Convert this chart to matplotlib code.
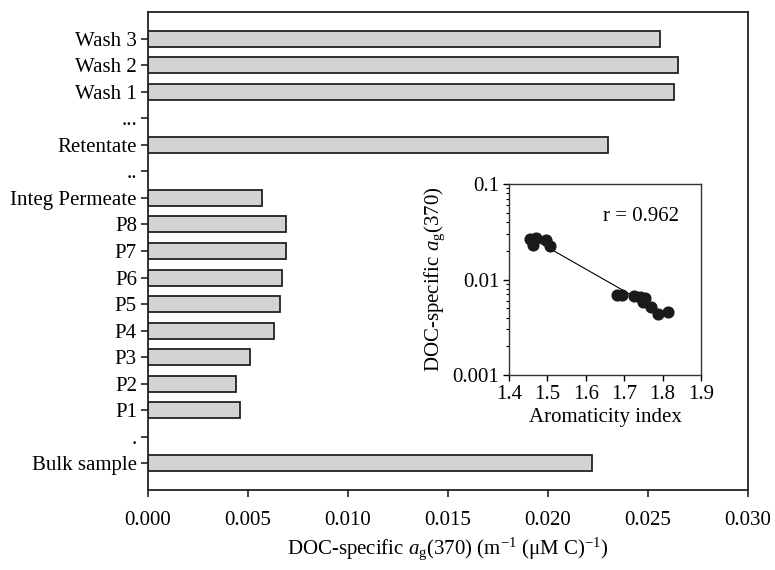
import numpy as np
import matplotlib
matplotlib.use("Agg")
import matplotlib.pyplot as plt
from matplotlib.ticker import LogLocator, NullFormatter

plt.rcParams["font.family"] = ["Liberation Serif", "DejaVu Serif"]
plt.rcParams["mathtext.fontset"] = "custom"
plt.rcParams["mathtext.rm"] = "Liberation Serif"
plt.rcParams["mathtext.it"] = "Liberation Serif:italic"
plt.rcParams["font.size"] = 15

# bar data, bottom to top (nan = empty spacer row)
etiketler = ["Bulk sample", ".", "P1", "P2", "P3", "P4", "P5", "P6", "P7", "P8",
             "Integ Permeate", "..", "Retentate", "...", "Wash 1", "Wash 2", "Wash 3"]
degerler = [0.0222, np.nan, 0.0046, 0.0044, 0.0051, 0.0063, 0.0066, 0.0067, 0.0069, 0.0069,
            0.0057, np.nan, 0.0230, np.nan, 0.0263, 0.0265, 0.0256]

# inset scatter data
aromatiklik = [1.454, 1.463, 1.471, 1.497, 1.508,
               1.680, 1.695, 1.726, 1.741, 1.754, 1.750, 1.769, 1.789, 1.815]
doc_ag = [0.0266, 0.0230, 0.0270, 0.0260, 0.0225,
          0.0069, 0.0069, 0.0067, 0.0066, 0.0064, 0.0058, 0.0051, 0.0044, 0.0046]

fig = plt.figure(figsize=(7.75, 5.70), dpi=100)
ax = fig.add_axes([148/775, 1-490/570, 600/775, 478/570])

y = np.arange(len(etiketler))
v = np.array(degerler)
m = ~np.isnan(v)
ax.barh(y[m], v[m], height=0.6, color="#d3d3d3", edgecolor="#222222", linewidth=1.3)
ax.set_yticks(y)
ax.set_yticklabels(etiketler)
ax.set_ylim(-1, len(etiketler))
ax.set_xlim(0, 0.030)
ax.set_xticks([0.000, 0.005, 0.010, 0.015, 0.020, 0.025, 0.030])
ax.set_xticklabels(["0.000", "0.005", "0.010", "0.015", "0.020", "0.025", "0.030"])
ax.tick_params(direction="out", length=5, width=1.2, color="#222222", pad=3)
ax.tick_params(axis="x", pad=10)
for s in ax.spines.values():
    s.set_linewidth(1.3)
    s.set_color("#222222")
ax.set_xlabel(r"DOC-specific $a_{\mathrm{g}}$(370) (m$^{\mathrm{-1}}$ ($\mathrm{\mu}$M C)$^{\mathrm{-1}}$)",
              labelpad=4)

# inset
ins = fig.add_axes([509/775, 1-375/570, 192/775, 191/570])
x = np.array(aromatiklik)
yy = np.array(doc_ag)
k = np.polyfit(x, np.log10(yy), 1)
xf = np.array([x.min(), x.max()])
ins.plot(xf, 10**np.polyval(k, xf), color="black", linewidth=0.8, zorder=2)
ins.scatter(x, yy, s=60, color="#1a1a1a", zorder=3)
ins.set_yscale("log")
ins.set_xlim(1.4, 1.9)
ins.set_ylim(0.001, 0.1)
ins.set_xticks([1.4, 1.5, 1.6, 1.7, 1.8, 1.9])
ins.set_yticks([0.001, 0.01, 0.1])
ins.set_yticklabels(["0.001", "0.01", "0.1"])
ins.yaxis.set_minor_locator(LogLocator(base=10, subs=np.arange(2, 10)))
ins.yaxis.set_minor_formatter(NullFormatter())
ins.tick_params(direction="out", length=4, width=1.0, pad=3)
ins.tick_params(which="minor", length=2.5, width=0.8)
for s in ins.spines.values():
    s.set_linewidth(1.0)
    s.set_color("#333333")
ins.set_xlabel("Aromaticity index", labelpad=3)
ins.set_ylabel(r"DOC-specific $a_{\mathrm{g}}$(370)", labelpad=4)
ins.text(0.69, 0.83, "r = 0.962", transform=ins.transAxes, ha="center", va="center")

fig.savefig("out.png", dpi=100)
